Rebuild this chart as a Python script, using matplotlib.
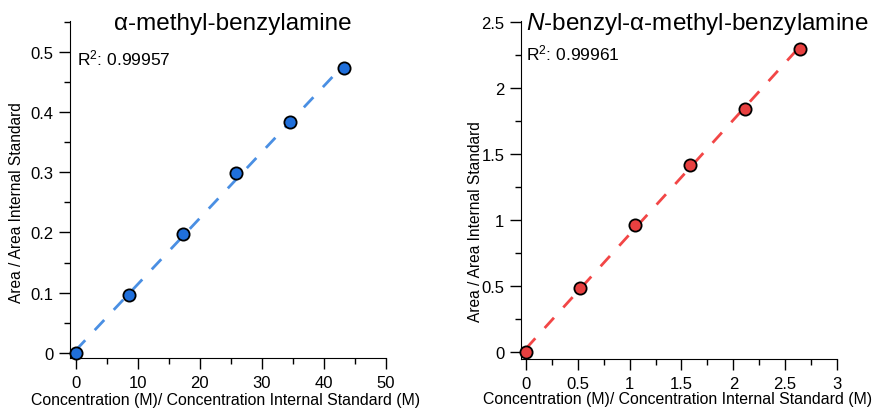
import numpy as np
import matplotlib
matplotlib.use("Agg")
import matplotlib.pyplot as plt
from matplotlib.ticker import MultipleLocator, FuncFormatter

plt.rcParams['font.family'] = ['Liberation Sans', 'DejaVu Sans']
plt.rcParams['mathtext.fontset'] = 'custom'
plt.rcParams['mathtext.rm'] = 'Liberation Sans'
plt.rcParams['mathtext.it'] = 'Liberation Sans:italic'

# Data
x_left = [0, 8.6, 17.25, 25.9, 34.55, 43.3]
y_left = [0, 0.097, 0.197, 0.298, 0.383, 0.473]
x_right = [0, 0.525, 1.05, 1.58, 2.11, 2.645]
y_right = [0, 0.49, 0.963, 1.423, 1.846, 2.30]
titles = ["α-methyl-benzylamine", "$N$-benzyl-α-methyl-benzylamine"]
r2_labels = ["R$^2$: 0.99957", "R$^2$: 0.99961"]
xlabel = "Concentration (M)/ Concentration Internal Standard (M)"
ylabel = "Area / Area Internal Standard"

fig = plt.figure(figsize=(8.76, 4.10), dpi=100)
axL = fig.add_axes([70/876, 1-359/410, 316/876, 337/410])
axR = fig.add_axes([521/876, 1-360/410, 316/876, 338/410])

def fmt(v, pos):
    return '%g' % v

def style(ax):
    for s in ['top', 'right']:
        ax.spines[s].set_visible(False)
    ax.tick_params(which='major', direction='out', length=8, width=1, labelsize=12, pad=4)
    ax.tick_params(which='minor', direction='out', length=4, width=1)
    ax.xaxis.set_major_formatter(FuncFormatter(fmt))
    ax.yaxis.set_major_formatter(FuncFormatter(fmt))

def draw(ax, x, y, lc, mc):
    x = np.array(x); y = np.array(y)
    m, b = np.polyfit(x, y, 1)
    xx = np.array([0, x.max()])
    ax.plot(xx, m*xx + b, ls=(0, (5, 5)), color=lc, lw=2, zorder=2)
    ax.plot(x, y, 'o', ms=8.8, mfc=mc, mec='black', mew=1.3, zorder=3, clip_on=False)

draw(axL, x_left, y_left, '#4a8fe3', '#1f6fdb')
axL.set_xlim(-0.92, 50)
axL.set_ylim(-0.0083, 0.551)
axL.xaxis.set_major_locator(MultipleLocator(10))
axL.xaxis.set_minor_locator(MultipleLocator(5))
axL.yaxis.set_major_locator(MultipleLocator(0.1))
axL.yaxis.set_minor_locator(MultipleLocator(0.05))
style(axL)

draw(axR, x_right, y_right, '#f24646', '#e84040')
axR.set_xlim(-0.048, 3)
axR.set_ylim(-0.05, 2.51)
axR.xaxis.set_major_locator(MultipleLocator(0.5))
axR.xaxis.set_minor_locator(MultipleLocator(0.25))
axR.yaxis.set_major_locator(MultipleLocator(0.5))
axR.yaxis.set_minor_locator(MultipleLocator(0.25))
style(axR)

fig.text(233/876, 1-24/410, titles[0], ha='center', va='center', fontsize=17.5)
fig.text(526/876, 1-24/410, titles[1], ha='left', va='center', fontsize=17.5)
fig.text(77/876, 1-58/410, r2_labels[0], ha='left', va='center', fontsize=12.5)
fig.text(526/876, 1-53/410, r2_labels[1], ha='left', va='center', fontsize=12.5)

fig.text(226/876, 1-401/410, xlabel, ha='center', va='center', fontsize=11.4)
fig.text(678/876, 1-400/410, xlabel, ha='center', va='center', fontsize=11.4)
fig.text(17/876, 1-203/410, ylabel, ha='center', va='center', rotation=90, fontsize=11.2)
fig.text(476/876, 1-222/410, ylabel, ha='center', va='center', rotation=90, fontsize=11.2)

fig.savefig("out.png", dpi=100)
